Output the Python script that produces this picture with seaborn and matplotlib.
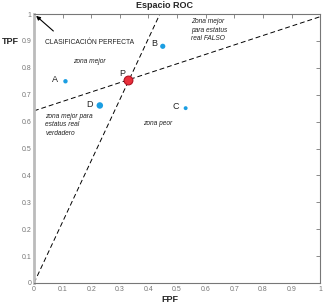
import matplotlib
matplotlib.use("Agg")
import matplotlib.pyplot as plt
import seaborn as sns
import pandas as pd

# data
point_names = ["A", "B", "C", "D"]
point_fpf = [0.11, 0.45, 0.53, 0.23]
point_tpf = [0.75, 0.88, 0.65, 0.66]
point_sizes = [10, 14, 8, 22]
p_fpf = [0.33]
p_tpf = [0.755]
steep_x = [0.0, 0.44]
steep_y = [0.0, 1.0]
shallow_x = [0.0, 1.0]
shallow_y = [0.64, 0.99]
ticks = [0, 0.1, 0.2, 0.3, 0.4, 0.5, 0.6, 0.7, 0.8, 0.9, 1]
tick_labels = ["0", "0.1", "0.2", "0.3", "0.4", "0.5", "0.6", "0.7", "0.8", "0.9", "1"]

sns.set_style("white")
plt.rcParams['font.family'] = ['Liberation Sans', 'DejaVu Sans']

fig = plt.figure(figsize=(3.25, 3.08), dpi=100)
ax = fig.add_axes([0.1046, 0.0812, 0.8804, 0.8733])

sns.lineplot(x=steep_x, y=steep_y, ax=ax, color="black", lw=0.7, linestyle=(0, (5, 3)))
sns.lineplot(x=shallow_x, y=shallow_y, ax=ax, color="black", lw=0.7, linestyle=(0, (5, 3)))

df = pd.DataFrame({"FPF": point_fpf, "TPF": point_tpf, "s": point_sizes})
sns.scatterplot(data=df, x="FPF", y="TPF", size="s", sizes=(8, 22), ax=ax,
                color="#1b9ee2", edgecolor="none", legend=False, zorder=3)
sns.scatterplot(x=p_fpf, y=p_tpf, ax=ax, s=40, color="#e8303a", edgecolor="#b01020",
                linewidth=0.8, zorder=4)

label_off = {"A": (-0.035, 0.005), "B": (-0.03, 0.01), "C": (-0.035, 0.008), "D": (-0.035, 0.005)}
for n, x, y in zip(point_names, point_fpf, point_tpf):
    dx, dy = label_off[n]
    ax.text(x + dx, y + dy, n, fontsize=6.5, ha="center", va="center", color="#222")
ax.text(p_fpf[0] - 0.02, p_tpf[0] + 0.025, "P", fontsize=6.5, ha="center", va="center", color="#222")

ax.annotate("", xy=(0.0, 1.0), xytext=(0.075, 0.93),
            arrowprops=dict(arrowstyle="-|>", color="black", lw=0.8, mutation_scale=6))
ax.text(0.04, 0.895, "CLASIFICACIÓN PERFECTA", fontsize=4.9, ha="left", va="center", color="#222")
ax.text(0.195, 0.822, "zona mejor", fontsize=4.8, style="italic", ha="center", va="center", color="#222")
ax.text(0.55, 0.985, "Zona mejor\npara estatus\nreal FALSO", fontsize=4.8, style="italic",
        ha="left", va="top", linespacing=1.3, color="#222")
ax.text(0.04, 0.633, "zona mejor para\nestatus real\nverdadero", fontsize=4.8, style="italic",
        ha="left", va="top", linespacing=1.3, color="#222")
ax.text(0.38, 0.592, "zona peor", fontsize=4.8, style="italic", ha="left", va="center", color="#222")

ax.set_xlim(0, 1)
ax.set_ylim(0, 1)
ax.set_xticks(ticks)
ax.set_xticklabels(tick_labels)
ax.set_yticks(ticks)
ax.set_yticklabels(tick_labels)
ax.tick_params(direction="in", length=3, width=0.6, colors="#777", labelsize=5,
               labelcolor="#777", top=True, right=True, pad=2)
ax.set_xlabel("")
ax.set_ylabel("")
for side, sp in ax.spines.items():
    sp.set_color("#777")
    sp.set_linewidth(0.8)
ax.spines["left"].set_color("#bbb")
ax.spines["left"].set_linewidth(2)

fig.text(165 / 325, 1 - 6 / 308, "Espacio ROC", fontsize=6.5, fontweight="bold", ha="center", va="center")
fig.text(10 / 325, 1 - 41 / 308, "TPF", fontsize=6.5, fontweight="bold", ha="center", va="center")
fig.text(170 / 325, 1 - 300 / 308, "FPF", fontsize=6.5, fontweight="bold", ha="center", va="center")

fig.savefig("out.png", dpi=100)
